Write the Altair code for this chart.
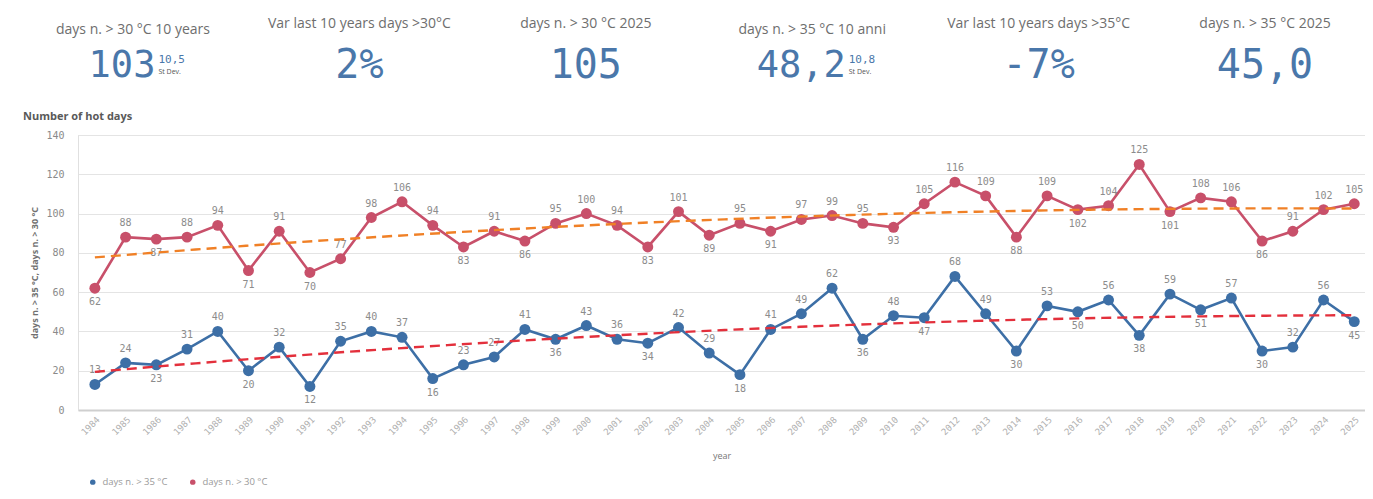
import altair as alt
import pandas as pd

# ---------------- data ----------------
years = list(range(1984, 2026))
days_over_35 = [13, 24, 23, 31, 40, 20, 32, 12, 35, 40, 37, 16, 23, 27, 41, 36, 43, 36, 34, 42, 29,
                18, 41, 49, 62, 36, 48, 47, 68, 49, 30, 53, 50, 56, 38, 59, 51, 57, 30, 32, 56, 45]
days_over_30 = [62, 88, 87, 88, 94, 71, 91, 70, 77, 98, 106, 94, 83, 91, 86, 95, 100, 94, 83, 101, 89,
                95, 91, 97, 99, 95, 93, 105, 116, 109, 88, 109, 102, 104, 125, 101, 108, 106, 86, 91, 102, 105]
series_names = ["days n. > 35 °C", "days n. > 30 °C"]
y_ticks = [0, 20, 40, 60, 80, 100, 120, 140]

kpi_titles = ["days n. > 30 °C 10 years", "Var last 10 years days >30°C", "days n. > 30 °C 2025",
              "days n. > 35 °C 10 anni", "Var last 10 years days >35°C", "days n. > 35 °C 2025"]
kpi_values = ["103", "2%", "105", "48,2", "-7%", "45,0"]
kpi_subs = ["10,5", "", "", "10,8", "", ""]
kpi_sub_caption = "St Dev."

# ---------------- styling ----------------
BLUE = "#3d6fa6"
RED = "#c8506a"
TREND35 = "#e3303c"
TREND30 = "#f08026"
KPI_COLOR = "#4a77aa"
MONO = "DejaVu Sans Mono"
SANS = "Open Sans"

PLOT_W, PLOT_H = 1287, 275
PAD_L, PAD_T = 70, 127

# ---------------- long table ----------------
rows = []
for name, vals in zip(series_names, [days_over_35, days_over_30]):
    n = len(vals)
    for i, (yr, v) in enumerate(zip(years, vals)):
        prev_ok = (i == 0) or v < vals[i - 1]
        next_ok = (i == n - 1) or v < vals[i + 1]
        below = bool(prev_ok and next_ok and not (i == 0 and name == series_names[0]))
        rows.append({"year": yr, "series": name, "value": v, "below": below})
df = pd.DataFrame(rows)

# KPI table with layout computed from index
kpi = pd.DataFrame({"title": kpi_titles, "value": kpi_values, "sub": kpi_subs})
kpi["cx"] = [55 + k * 226.4 for k in range(len(kpi))]
kpi["has_sub"] = kpi["sub"] != ""
main_sub_size, main_size = 37, 40
kpi["main_w"] = kpi["value"].str.len() * 0.602 * main_sub_size
kpi["main_right"] = kpi["cx"] - (kpi["main_w"] + 3 + 19) / 2 + kpi["main_w"]
kpi["sub_left"] = kpi["main_right"] + 3
kpi["caption"] = [kpi_sub_caption if s else "" for s in kpi_subs]

x_enc = alt.X("year:Q",
              scale=alt.Scale(domain=[1983.45, 2025.35], nice=False, zero=False),
              axis=alt.Axis(values=years, format="d", labelAngle=-45, title="year",
                            grid=False, ticks=False, labelOverlap=False, labelFont=MONO,
                            labelFontSize=9, labelColor="#b0b0b0", labelPadding=5,
                            domainColor="#cfcfcf", domainWidth=2, titleFont=SANS, titleFontSize=9,
                            titleFontWeight="normal", titleColor="#777777", titlePadding=15))
y_enc = alt.Y("value:Q",
              scale=alt.Scale(domain=[0, 140], nice=False, zero=True),
              axis=alt.Axis(values=y_ticks, title="days n. > 35 °C, days n. > 30 °C",
                            ticks=False, labelOverlap=False, labelFont=MONO, labelFontSize=10,
                            labelColor="#8a8a8a", labelPadding=14, gridColor="#e4e4e4",
                            domainColor="#e0e0e0", titleFont=SANS, titleFontSize=9,
                            titleFontWeight="bold", titleColor="#707070", titlePadding=6))
color_scale = alt.Scale(domain=series_names, range=[BLUE, RED])
legend = alt.Legend(title=None, orient="none", legendX=10, legendY=342,
                    direction="horizontal", symbolType="circle", symbolSize=30,
                    symbolStrokeWidth=0, labelFont=SANS, labelFontSize=9.5,
                    labelColor="#9a9a9a", labelOffset=5, columnPadding=20)
color_enc = alt.Color("series:N", scale=color_scale, legend=legend)

base = alt.Chart(df)

lines = base.mark_line(strokeWidth=2.6).encode(x=x_enc, y=y_enc, color=color_enc)
points = base.mark_circle(size=120, opacity=1).encode(x=x_enc, y=y_enc, color=color_enc)
labels_above = base.transform_filter("!datum.below").mark_text(
    dy=-14, baseline="middle", font=MONO, fontSize=10, color="#8c8c8c"
).encode(x=x_enc, y=y_enc, text="value:Q")
labels_below = base.transform_filter("datum.below").mark_text(
    dy=14, baseline="middle", font=MONO, fontSize=10, color="#8c8c8c"
).encode(x=x_enc, y=y_enc, text="value:Q")

trend35 = base.transform_filter(alt.datum.series == series_names[0]).transform_regression(
    "year", "value", method="poly", order=2, extent=[1984, 2025]
).mark_line(color=TREND35, strokeDash=[10, 6], strokeWidth=2.4).encode(x=x_enc, y=y_enc)
trend30 = base.transform_filter(alt.datum.series == series_names[1]).transform_regression(
    "year", "value", method="poly", order=2, extent=[1984, 2025]
).mark_line(color=TREND30, strokeDash=[10, 6], strokeWidth=2.4).encode(x=x_enc, y=y_enc)

# ---------------- KPI header ----------------
kbase = alt.Chart(kpi)
kpi_title = kbase.transform_calculate(ty="datum.has_sub ? -101 : -107").mark_text(
    align="center", baseline="alphabetic", font=SANS, fontSize=14, color="#6e6e6e"
).encode(x=alt.X("cx:Q", scale=None, axis=None), y=alt.Y("ty:Q", scale=None, axis=None),
         text="title:N")
kpi_main_plain = kbase.transform_filter("!datum.has_sub").mark_text(
    align="center", baseline="alphabetic", font=MONO, fontSize=main_size, color=KPI_COLOR
).encode(x=alt.X("cx:Q", scale=None, axis=None), y=alt.value(-57), text="value:N")
kpi_main_sub = kbase.transform_filter("datum.has_sub").mark_text(
    align="right", baseline="alphabetic", font=MONO, fontSize=main_sub_size, color=KPI_COLOR
).encode(x=alt.X("main_right:Q", scale=None, axis=None), y=alt.value(-58), text="value:N")
kpi_sub = kbase.transform_filter("datum.has_sub").mark_text(
    align="left", baseline="alphabetic", font=MONO, fontSize=11, color=KPI_COLOR
).encode(x=alt.X("sub_left:Q", scale=None, axis=None), y=alt.value(-72), text="sub:N")
kpi_cap = kbase.transform_filter("datum.has_sub").mark_text(
    align="left", baseline="alphabetic", font=SANS, fontSize=7, color="#555555"
).encode(x=alt.X("sub_left:Q", scale=None, axis=None), y=alt.value(-61), text="caption:N")

chart_title = alt.Chart(pd.DataFrame({"t": ["Number of hot days"]})).mark_text(
    align="left", baseline="alphabetic", font=SANS, fontSize=11, fontWeight="bold", color="#595959"
).encode(x=alt.value(-55), y=alt.value(-15), text="t:N")

chart = alt.layer(
    lines, points, labels_above, labels_below, trend35, trend30,
    kpi_title, kpi_main_plain, kpi_main_sub, kpi_sub, kpi_cap, chart_title,
).properties(
    width=PLOT_W, height=PLOT_H,
    autosize=alt.AutoSizeParams(type="none"),
    padding={"left": PAD_L, "top": PAD_T, "right": 0, "bottom": 81},
).configure_view(stroke=None).configure(background="white")

chart.save("out.html", embed_options={"renderer": "svg", "actions": False})
